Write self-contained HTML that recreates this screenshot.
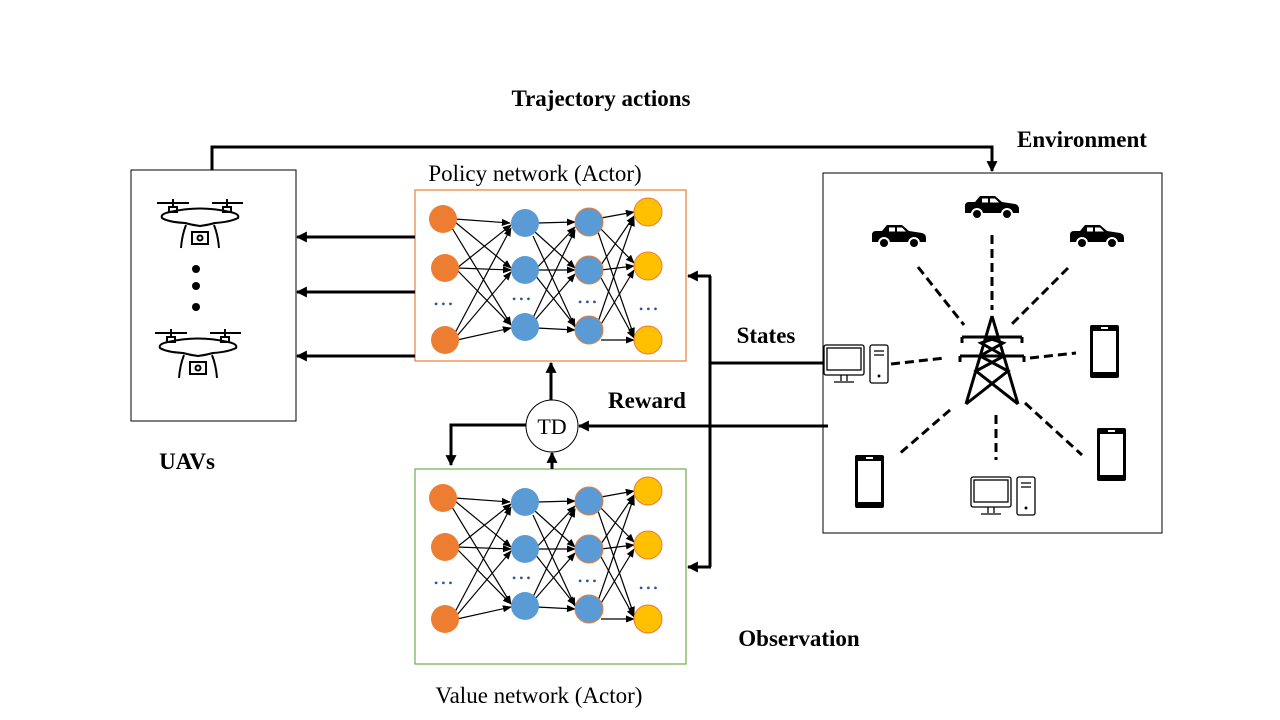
<!DOCTYPE html>
<html><head><meta charset="utf-8"><style>
html,body{margin:0;padding:0;background:#fff;}
svg{display:block;}
text{font-family:"Liberation Serif",serif;}
</style></head><body>
<svg width="1280" height="720" viewBox="0 0 1280 720" xmlns="http://www.w3.org/2000/svg">
<defs>
<marker id="a" viewBox="0 0 10 10" refX="9" refY="5" markerWidth="11" markerHeight="11" markerUnits="userSpaceOnUse" orient="auto"><path d="M0,0L10,5L0,10z" fill="#000"/></marker>
<marker id="s" viewBox="0 0 10 10" refX="9" refY="5" markerWidth="9" markerHeight="9" markerUnits="userSpaceOnUse" orient="auto"><path d="M0,1L10,5L0,9z" fill="#000"/></marker>
<g id="net">
<g stroke="#000" stroke-width="1.2" marker-end="url(#s)">
<line x1="455" y1="219" x2="510" y2="223"/><line x1="455" y1="222" x2="511" y2="268"/><line x1="452" y1="228" x2="511" y2="325"/>
<line x1="457" y1="268" x2="511" y2="225"/><line x1="457" y1="268" x2="511" y2="270"/><line x1="457" y1="270" x2="511" y2="325"/>
<line x1="455" y1="333" x2="511" y2="228"/><line x1="457" y1="336" x2="511" y2="272"/><line x1="457" y1="340" x2="511" y2="328"/>
<line x1="537" y1="223" x2="575" y2="222"/><line x1="535" y1="232" x2="575" y2="268"/><line x1="533" y1="236" x2="575" y2="327"/>
<line x1="535" y1="270" x2="575" y2="227"/><line x1="537" y1="270" x2="575" y2="270"/><line x1="535" y1="275" x2="575" y2="326"/>
<line x1="533" y1="318" x2="575" y2="230"/><line x1="535" y1="320" x2="575" y2="274"/><line x1="537" y1="328" x2="575" y2="330"/>
<line x1="601" y1="218" x2="634" y2="212"/><line x1="600" y1="228" x2="634" y2="263"/><line x1="598" y1="232" x2="634" y2="336"/>
<line x1="601" y1="265" x2="634" y2="216"/><line x1="601" y1="270" x2="634" y2="266"/><line x1="600" y1="276" x2="634" y2="338"/>
<line x1="598" y1="322" x2="634" y2="218"/><line x1="600" y1="326" x2="634" y2="270"/><line x1="601" y1="340" x2="634" y2="340"/>
</g>
<g fill="#ED7D31"><circle cx="443" cy="219" r="14"/><circle cx="445" cy="268" r="14"/><circle cx="445" cy="340" r="14"/></g>
<g fill="#5B9BD5"><circle cx="525" cy="223" r="14"/><circle cx="525" cy="270" r="14"/><circle cx="525" cy="327" r="14"/></g>
<g fill="#5B9BD5" stroke="#ED7D31" stroke-width="1"><circle cx="589" cy="222" r="14"/><circle cx="589" cy="270" r="14"/><circle cx="589" cy="330" r="14"/></g>
<g fill="#FFC000" stroke="#ED7D31" stroke-width="1"><circle cx="648" cy="212" r="14"/><circle cx="648" cy="266" r="14"/><circle cx="648" cy="340" r="14"/></g>
<g fill="#2F5597" font-size="12" font-family="Liberation Sans,sans-serif"><text x="434" y="308">• • •</text><text x="512" y="303">• • •</text><text x="578" y="306">• • •</text><text x="639" y="313">• • •</text></g>
</g>
<g id="drone" fill="none" stroke="#000" stroke-width="2">
<line x1="157" y1="203" x2="189" y2="203"/><line x1="212" y1="203" x2="243" y2="203"/>
<line x1="173" y1="199" x2="173" y2="207"/><line x1="227" y1="199" x2="227" y2="207"/>
<rect x="169" y="207" width="8" height="5"/><rect x="223" y="207" width="8" height="5"/>
<path d="M170,212 Q200,205 230,212 Q240,214 238,218 Q230,222 215,223 Q208,225 200,226 Q192,225 185,223 Q168,222 162,218 Q160,214 170,212z"/>
<path d="M186,225 Q182,235 181,248 M214,225 Q218,235 219,248"/>
<rect x="192" y="232" width="16" height="12"/><circle cx="200" cy="238" r="2.5"/>
</g>
<g id="car"><path d="M0,10 Q0,6 4,6 L10,6 L15,0 L30,0 L37,6 L50,8 Q54,9 54,13 L54,17 L0,17z" fill="#000"/><rect x="17" y="2.5" width="6" height="4" fill="#fff"/><path d="M25,2.5 L30,2.5 L34,6.5 L25,6.5z" fill="#fff"/><circle cx="12" cy="18" r="5" fill="#000" stroke="#fff" stroke-width="2"/><circle cx="42" cy="18" r="5" fill="#000" stroke="#fff" stroke-width="2"/></g>
<g id="phone"><rect x="0" y="0" width="29" height="53" rx="2" fill="#000"/><rect x="3" y="6" width="23" height="41" fill="#fff"/><rect x="11" y="2" width="7" height="2" fill="#fff"/></g>
<g id="pc" fill="none" stroke="#000" stroke-width="1.3"><rect x="0" y="0" width="40" height="30" rx="2"/><rect x="3" y="3" width="34" height="22"/><path d="M17,30 L17,36 M23,30 L23,36 M10,37 L30,37"/><rect x="46" y="0" width="18" height="38" rx="2"/><path d="M50,6 L60,6 M50,10 L60,10"/><circle cx="55" cy="31" r="0.8" fill="#000"/></g>
</defs>

<text x="601" y="106" font-size="23" font-weight="bold" text-anchor="middle">Trajectory actions</text>
<text x="1082" y="147" font-size="23" font-weight="bold" text-anchor="middle">Environment</text>
<text x="535" y="181" font-size="23" text-anchor="middle">Policy network (Actor)</text>
<text x="539" y="703" font-size="23" text-anchor="middle">Value network (Actor)</text>
<text x="187" y="469" font-size="23" font-weight="bold" text-anchor="middle">UAVs</text>
<text x="766" y="343" font-size="23" font-weight="bold" text-anchor="middle">States</text>
<text x="647" y="408" font-size="23" font-weight="bold" text-anchor="middle">Reward</text>
<text x="799" y="646" font-size="23" font-weight="bold" text-anchor="middle">Observation</text>

<rect x="131" y="170" width="165" height="251" fill="none" stroke="#000" stroke-width="1"/>
<rect x="415" y="190" width="271" height="171" fill="none" stroke="#ED7D31" stroke-width="1.2"/>
<rect x="415" y="469" width="271" height="195" fill="none" stroke="#70AD47" stroke-width="1.2"/>
<rect x="823" y="173" width="339" height="360" fill="none" stroke="#000" stroke-width="1"/>

<use href="#net"/>
<use href="#net" transform="translate(0,279)"/>

<use href="#drone"/>
<use href="#drone" transform="translate(-2,130)"/>
<g fill="#000"><circle cx="196" cy="269" r="4"/><circle cx="196" cy="286" r="4"/><circle cx="196" cy="307" r="4"/></g>

<g stroke="#000" stroke-width="3" fill="none">
<polyline points="212,170 212,147 992,147 992,171" marker-end="url(#a)"/>
<line x1="415" y1="237" x2="297" y2="237" marker-end="url(#a)"/>
<line x1="415" y1="292" x2="297" y2="292" marker-end="url(#a)"/>
<line x1="415" y1="356" x2="297" y2="356" marker-end="url(#a)"/>
<line x1="710" y1="276" x2="710" y2="567"/>
<line x1="711" y1="276" x2="688" y2="276" marker-end="url(#a)"/>
<line x1="711" y1="567" x2="688" y2="567" marker-end="url(#a)"/>
<line x1="710" y1="363" x2="823" y2="363"/>
<line x1="828" y1="426" x2="579" y2="426" marker-end="url(#a)"/>
<line x1="551" y1="400" x2="551" y2="363" marker-end="url(#a)"/>
<line x1="552" y1="469" x2="552" y2="453" marker-end="url(#a)"/>
<polyline points="526,425 451,425 451,465" marker-end="url(#a)"/>
</g>
<circle cx="552" cy="426" r="26" fill="#fff" stroke="#000" stroke-width="1"/>
<text x="552" y="434" font-size="22" text-anchor="middle">TD</text>

<use href="#car" transform="translate(965,196)"/>
<use href="#car" transform="translate(872,225)"/>
<use href="#car" transform="translate(1070,225)"/>
<use href="#phone" transform="translate(1090,325)"/>
<use href="#phone" transform="translate(855,455)"/>
<use href="#phone" transform="translate(1097,428)"/>
<use href="#pc" transform="translate(824,345)"/>
<use href="#pc" transform="translate(971,477)"/>
<g stroke="#000" stroke-width="3" fill="none" stroke-dasharray="9,5">
<line x1="992" y1="235" x2="992" y2="310"/>
<line x1="918" y1="267" x2="964" y2="325"/>
<line x1="1068" y1="268" x2="1011" y2="325"/>
<line x1="891" y1="364" x2="945" y2="358"/>
<line x1="1030" y1="358" x2="1076" y2="353"/>
<line x1="950" y1="410" x2="898" y2="455"/>
<line x1="996" y1="415" x2="996" y2="460"/>
<line x1="1025" y1="403" x2="1082" y2="455"/>
</g>
<g fill="none" stroke="#000" stroke-width="3">
<path d="M992,316 L966,404 M992,316 L1018,404 M966,404 L1008,371 L980,356 L1003,343 L985,337 M1018,404 L976,371 L1004,356 L981,343 L999,337"/>
<path d="M962,337 L1022,337 M962,337 L962,343 M1022,337 L1022,343 M960,356 L1024,356 M960,356 L960,362 M1024,356 L1024,362"/>
</g>
</svg>
</body></html>
